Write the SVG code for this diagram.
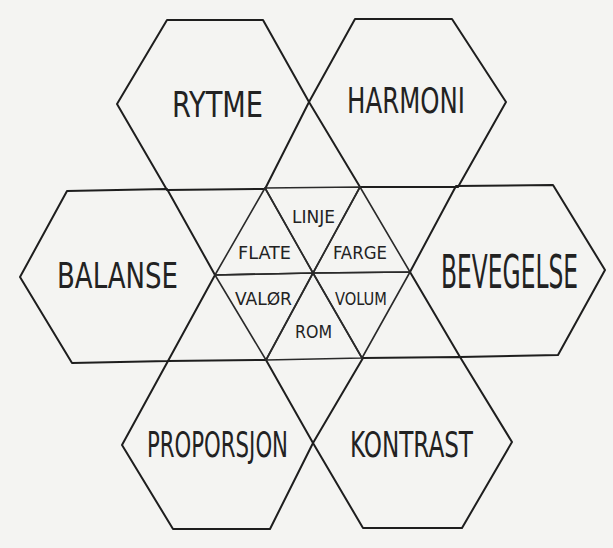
<svg xmlns="http://www.w3.org/2000/svg" width="613" height="548" viewBox="0 0 613 548">
<style>
.hex{fill:none;stroke:#1e1e1e;stroke-width:2;stroke-linejoin:round}
.tri{fill:none;stroke:#2a2a2a;stroke-width:1.6;stroke-linejoin:round}
.big{font-family:"DejaVu Sans Condensed","DejaVu Sans","Liberation Sans",sans-serif;font-stretch:condensed;font-size:36px;fill:#222}
.small{font-family:"DejaVu Sans Condensed","DejaVu Sans","Liberation Sans",sans-serif;font-stretch:condensed;font-size:17px;fill:#222}
</style>
<rect width="613" height="548" fill="#f4f4f2"/>
<g id="rytme">
<polygon class="hex" points="117,104 167,20 263,20 309,102 265,189 167,190"/>
<text class="big" x="172" y="117" textLength="91" lengthAdjust="spacingAndGlyphs" font-size="40">RYTME</text>
</g>
<g id="harmoni">
<polygon class="hex" points="309,102 355,19 452,19 506,102 458,187 360,187"/>
<text class="big" x="347" y="113" textLength="118" lengthAdjust="spacingAndGlyphs" font-size="36">HARMONI</text>
</g>
<g id="balanse">
<polygon class="hex" points="20,277 67,191 167,189 215,275 168,361 72,363"/>
<text class="big" x="57" y="288" textLength="121" lengthAdjust="spacingAndGlyphs" font-size="38">BALANSE</text>
</g>
<g id="bevegelse">
<polygon class="hex" points="410,272 456,186 553,185 605,270 558,355 460,357"/>
<text class="big" transform="translate(441,288) scale(1,1.3)" x="0" y="0" textLength="137" lengthAdjust="spacingAndGlyphs" font-size="27">BEVEGELSE</text>
</g>
<g id="proporsjon">
<polygon class="hex" points="122,445 168,361 266,360 313,443 270,529 173,529"/>
<text class="big" x="147" y="457" textLength="141" lengthAdjust="spacingAndGlyphs" font-size="36">PROPORSJON</text>
</g>
<g id="kontrast">
<polygon class="hex" points="313,443 363,358 460,357 512,442 462,528 363,528"/>
<text class="big" x="350" y="457" textLength="123" lengthAdjust="spacingAndGlyphs" font-size="36">KONTRAST</text>
</g>
<g id="linje">
<polygon class="tri" points="265,188 360,187 313,273"/>
<text class="small" x="292" y="223" textLength="43" lengthAdjust="spacingAndGlyphs" font-size="19">LINJE</text>
</g>
<g id="farge">
<polygon class="tri" points="360,187 410,272 313,273"/>
<text class="small" x="333" y="259" textLength="54" lengthAdjust="spacingAndGlyphs">FARGE</text>
</g>
<g id="volum">
<polygon class="tri" points="410,272 362,358 313,273"/>
<text class="small" x="335" y="305" textLength="52" lengthAdjust="spacingAndGlyphs">VOLUM</text>
</g>
<g id="rom">
<polygon class="tri" points="362,358 266,360 313,273"/>
<text class="small" x="295" y="338" textLength="37" lengthAdjust="spacingAndGlyphs">ROM</text>
</g>
<g id="valor">
<polygon class="tri" points="266,360 215,275 313,273"/>
<text class="small" x="235" y="305" textLength="57" lengthAdjust="spacingAndGlyphs">VALØR</text>
</g>
<g id="flate">
<polygon class="tri" points="215,275 265,188 313,273"/>
<text class="small" x="238" y="259" textLength="53" lengthAdjust="spacingAndGlyphs">FLATE</text>
</g>
</svg>
